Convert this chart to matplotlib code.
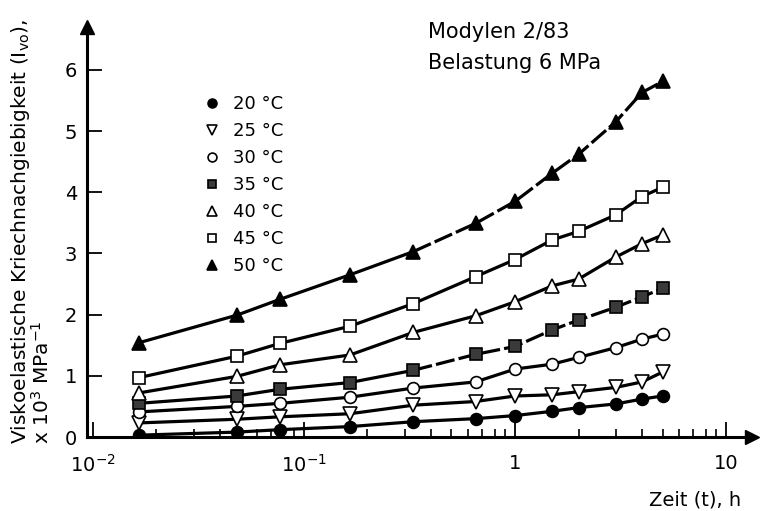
import numpy as np
import matplotlib.pyplot as plt
from matplotlib.ticker import FixedLocator, LogLocator, NullFormatter

############## DATA #####################
# Zeit in h (ca. 1, 3, 5, 10, 20, 40 min, dann 1 ... 5 h)
zeit = [0.0165, 0.048, 0.077, 0.165, 0.33, 0.65, 1, 1.5, 2, 3, 4, 5]

# Kriechnachgiebigkeit x 10^3 MPa^-1
I_20 = [0.03, 0.08, 0.12, 0.17, 0.25, 0.30, 0.35, 0.42, 0.48, 0.54, 0.62, 0.67]
I_25 = [0.23, 0.29, 0.33, 0.38, 0.52, 0.58, 0.67, 0.69, 0.74, 0.81, 0.90, 1.06]
I_30 = [0.41, 0.50, 0.55, 0.65, 0.80, 0.90, 1.11, 1.19, 1.30, 1.46, 1.60, 1.68]
I_35 = [0.55, 0.67, 0.78, 0.89, 1.09, 1.35, 1.48, 1.75, 1.91, 2.12, 2.29, 2.43]
I_40 = [0.72, 0.99, 1.18, 1.34, 1.71, 1.98, 2.21, 2.47, 2.58, 2.94, 3.16, 3.30]
I_45 = [0.97, 1.32, 1.53, 1.81, 2.18, 2.62, 2.90, 3.22, 3.36, 3.63, 3.93, 4.08]
I_50 = [1.54, 1.99, 2.25, 2.65, 3.03, 3.49, 3.85, 4.31, 4.62, 5.15, 5.63, 5.81]

labels = ["20 °C", "25 °C", "30 °C", "35 °C", "40 °C", "45 °C", "50 °C"]
serien = [I_20, I_25, I_30, I_35, I_40, I_45, I_50]

# marker style per series: (marker, facecolor)
stile = [("o", "black"), ("v", "white"), ("o", "white"), ("s", "#3a3a3a"),
         ("^", "white"), ("s", "white"), ("^", "black")]
# index from which the line is dashed (None = solid)
gestrichelt = [None, None, None, 4, None, None, 4]

xticks = [0.01, 0.1, 1, 10]
xticklabels = ["$10^{-2}$", "$10^{-1}$", "1", "10"]
yticks = [0, 1, 2, 3, 4, 5, 6]

############## PLOT #####################
plt.rcParams['font.family'] = 'DejaVu Sans'
fig = plt.figure(figsize=(7.62, 5.11), dpi=100)
ax = fig.add_axes([87/762, 74/511, 665/762, 410/511])

for werte, (m, fc), k, lab in zip(serien, stile, gestrichelt, labels):
    if k is None:
        ax.plot(zeit, werte, color="black", lw=2.3, zorder=2)
    else:
        ax.plot(zeit[:k + 1], werte[:k + 1], color="black", lw=2.3, zorder=2)
        ax.plot(zeit[k:], werte[k:], color="black", lw=2.3,
                linestyle=(0, (6, 1.3)), zorder=2)
    ms = 8.5 if m in ("o", "s") else 9.5
    ax.plot(zeit, werte, linestyle="none", marker=m, markersize=ms,
            markerfacecolor=fc, markeredgecolor="black", markeredgewidth=1.2,
            label=lab, zorder=3)

ax.set_xscale("log")
ax.set_xlim(10**-2.028, 10**1.123)
ax.set_ylim(0, 6.70)

ax.xaxis.set_major_locator(FixedLocator(xticks))
ax.set_xticklabels(xticklabels)
ax.xaxis.set_minor_locator(LogLocator(base=10, subs=np.arange(2, 10)))
ax.xaxis.set_minor_formatter(NullFormatter())
ax.set_yticks(yticks)

ax.tick_params(axis="both", which="major", direction="in", length=11,
               width=1.3, labelsize=14)
ax.tick_params(axis="both", which="minor", direction="in", length=6, width=1.2)
ax.tick_params(axis="x", which="major", pad=12)
ax.tick_params(axis="y", which="major", pad=7)

for s in ["top", "right"]:
    ax.spines[s].set_visible(False)
for s in ["left", "bottom"]:
    ax.spines[s].set_linewidth(2.2)

# arrow heads at the axis ends
ax.plot(1, 0, ">", color="black", markersize=10, transform=ax.transAxes,
        clip_on=False)
ax.plot(0, 1, "^", color="black", markersize=10, transform=ax.transAxes,
        clip_on=False)

leg = ax.legend(loc="upper left", bbox_to_anchor=(0.164, 0.851),
                frameon=False, fontsize=13, handlelength=1.0,
                handletextpad=0.65, labelspacing=0.5, borderaxespad=0,
                markerscale=0.75)

fig.text(428/762, 1 - 32/511, "Modylen 2/83", fontsize=15, va="center")
fig.text(428/762, 1 - 63/511, "Belastung 6 MPa", fontsize=15, va="center")

fig.text(21/762, 1 - 444/511,
         "Viskoelastische Kriechnachgiebigkeit (I$_{\\mathrm{vo}}$),",
         rotation=90, ha="center", va="bottom", fontsize=14.5)
fig.text(42/762, 1 - 444/511, "x 10$^{3}$ MPa$^{-1}$",
         rotation=90, ha="center", va="bottom", fontsize=14.5)

fig.text(741/762, 1 - 500/511, "Zeit (t), h", ha="right", va="center",
         fontsize=14)

plt.savefig("out.png", dpi=100)
